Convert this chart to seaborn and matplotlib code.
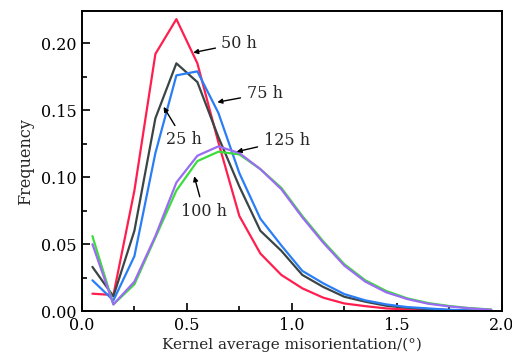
import matplotlib
matplotlib.use("Agg")
import matplotlib.pyplot as plt
from matplotlib.ticker import MultipleLocator, FormatStrFormatter
import numpy as np
import pandas as pd
import seaborn as sns

# bin centres of kernel average misorientation (deg)
kam = [0.05, 0.15, 0.25, 0.35, 0.45, 0.55, 0.65, 0.75, 0.85, 0.95,
       1.05, 1.15, 1.25, 1.35, 1.45, 1.55, 1.65, 1.75, 1.85, 1.95]

freq_50h = [0.013, 0.012, 0.090, 0.192, 0.218, 0.185, 0.126, 0.071, 0.043, 0.027,
            0.017, 0.010, 0.0057, 0.0037, 0.002, 0.0012, 0.0006, 0.0003, 0.0002, 0.0001]
freq_25h = [0.033, 0.011, 0.060, 0.144, 0.185, 0.171, 0.130, 0.093, 0.060, 0.045,
            0.027, 0.018, 0.0107, 0.007, 0.004, 0.0025, 0.0015, 0.0008, 0.0004, 0.0002]
freq_75h = [0.023, 0.008, 0.041, 0.118, 0.176, 0.179, 0.148, 0.103, 0.069, 0.049,
            0.030, 0.0207, 0.0127, 0.008, 0.005, 0.003, 0.002, 0.001, 0.0005, 0.0002]
freq_100h = [0.056, 0.005, 0.020, 0.055, 0.090, 0.112, 0.119, 0.117, 0.106, 0.092,
             0.071, 0.052, 0.035, 0.023, 0.015, 0.0095, 0.006, 0.0038, 0.0022, 0.0012]
freq_125h = [0.050, 0.005, 0.022, 0.056, 0.096, 0.116, 0.123, 0.118, 0.106, 0.091,
             0.070, 0.051, 0.034, 0.022, 0.014, 0.009, 0.0055, 0.0035, 0.002, 0.001]

series = ["50 h", "25 h", "75 h", "100 h", "125 h"]
values = [freq_50h, freq_25h, freq_75h, freq_100h, freq_125h]
palette = {"50 h": "#ff1f4f", "25 h": "#3b4545", "75 h": "#2a7ef5",
           "100 h": "#3ddc3d", "125 h": "#9a6cf2"}

df = pd.DataFrame({
    "kam": np.tile(kam, len(series)),
    "freq": np.concatenate(values),
    "time": np.repeat(series, len(kam)),
})

sns.set_style("ticks")
plt.rcParams["font.family"] = ["DejaVu Serif"]

fig = plt.figure(figsize=(5.12, 3.58), dpi=100)
ax = fig.add_axes([0.160, 0.131, 0.820, 0.838])

sns.lineplot(data=df, x="kam", y="freq", hue="time", hue_order=series,
             palette=palette, linewidth=1.6, legend=False, ax=ax,
             estimator=None, sort=False)

ax.set_xlim(0, 2.0)
ax.set_ylim(0, 0.224)
ax.xaxis.set_major_locator(MultipleLocator(0.5))
ax.xaxis.set_minor_locator(MultipleLocator(0.25))
ax.yaxis.set_major_locator(MultipleLocator(0.05))
ax.yaxis.set_minor_locator(MultipleLocator(0.025))
ax.xaxis.set_major_formatter(FormatStrFormatter("%.1f"))
ax.yaxis.set_major_formatter(FormatStrFormatter("%.2f"))
ax.tick_params(which="both", direction="in", top=False, right=False,
               labelsize=11.5, colors="black", pad=4)
ax.tick_params(which="major", length=6, width=1.2)
ax.tick_params(which="minor", length=3.5, width=1.2)
for s in ax.spines.values():
    s.set_visible(True)
    s.set_linewidth(1.4)
    s.set_color("black")

ax.set_xlabel("Kernel average misorientation/(°)", fontsize=11, labelpad=3)
ax.set_ylabel("Frequency", fontsize=11.5, labelpad=5)

arrow = dict(arrowstyle="-|>", color="black", lw=1.0, mutation_scale=7,
             shrinkA=2, shrinkB=0)
# label, arrow tip (data), text centre (data)
ann = [
    ("50 h", (0.53, 0.193), (0.75, 0.200)),
    ("75 h", (0.645, 0.156), (0.87, 0.1625)),
    ("125 h", (0.737, 0.119), (0.975, 0.1276)),
    ("25 h", (0.389, 0.1525), (0.484, 0.128)),
    ("100 h", (0.535, 0.1007), (0.58, 0.0746)),
]
for label, xy, xytext in ann:
    ax.annotate(label, xy=xy, xytext=xytext, fontsize=11.5,
                ha="center", va="center", arrowprops=arrow)

fig.savefig("out.png", dpi=100)
